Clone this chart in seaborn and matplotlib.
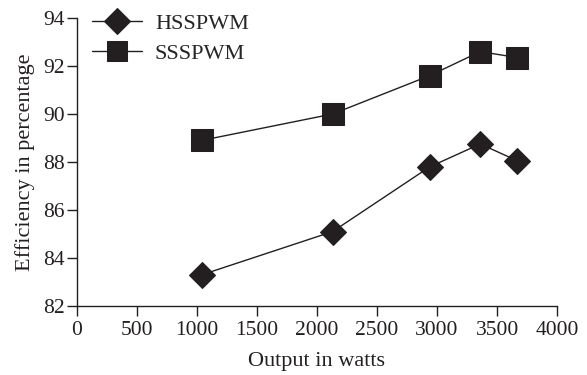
import matplotlib
matplotlib.use("Agg")
import matplotlib.pyplot as plt
import seaborn as sns
import pandas as pd

output_w = [1040, 2130, 2940, 3360, 3670]
hsspwm = [83.3, 85.1, 87.8, 88.75, 88.05]
ssspwm = [88.9, 90.0, 91.6, 92.6, 92.35]
xticks = [0, 500, 1000, 1500, 2000, 2500, 3000, 3500, 4000]
yticks = [82, 84, 86, 88, 90, 92, 94]

sns.set_style("ticks")
plt.rcParams['font.family'] = ['Liberation Serif', 'DejaVu Serif']

df = pd.DataFrame({
    "x": output_w * 2,
    "y": hsspwm + ssspwm,
    "s": ["HSSPWM"] * len(output_w) + ["SSSPWM"] * len(output_w),
})

fig = plt.figure(figsize=(5.87, 3.75), dpi=100)
ax = fig.add_axes([0.131, 0.184, 0.818, 0.768])
col = "#231f20"
sns.lineplot(data=df, x="x", y="y", hue="s", style="s",
             markers={"HSSPWM": "D", "SSSPWM": "s"}, dashes=False,
             palette={"HSSPWM": col, "SSSPWM": col},
             markersize=16, linewidth=1.0, markeredgecolor=col, ax=ax)
for l in ax.lines:
    if l.get_marker() == "D":
        l.set_markersize(13)

ax.set_xlim(0, 4000)
ax.set_ylim(82, 94)
ax.set_xticks(xticks)
ax.set_yticks(yticks)
ax.tick_params(labelsize=15.5, length=7, width=1, colors=col)
ax.tick_params(axis="x", pad=3.5)
ax.tick_params(axis="y", pad=1.5)
ax.set_xlabel("Output in watts", fontsize=16, color=col, labelpad=9)
ax.set_ylabel("Efficiency in percentage", fontsize=16, color=col, labelpad=6)
for sp in ["top", "right"]:
    ax.spines[sp].set_visible(False)
for sp in ["left", "bottom"]:
    ax.spines[sp].set_color(col)
    ax.spines[sp].set_linewidth(1.0)

leg = ax.legend(loc="upper left", bbox_to_anchor=(-0.011, 1.085), frameon=False,
                fontsize=16, handlelength=2.25, labelspacing=0.4, handletextpad=0.6)
for h in leg.legend_handles:
    if h.get_marker() == "D":
        h.set_markersize(13)
    else:
        h.set_markersize(14)

fig.savefig("out.png", dpi=100)
